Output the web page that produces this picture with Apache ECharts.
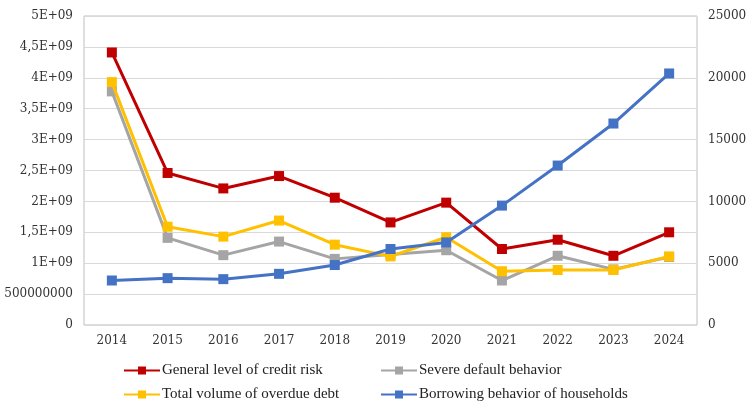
<!DOCTYPE html>
<html><head><meta charset="utf-8">
<script src="https://cdn.jsdelivr.net/npm/echarts@6/dist/echarts.min.js"></script>
<style>html,body{margin:0;padding:0;background:#fff}#c{width:747px;height:401px}</style>
</head><body><div id="c"></div>
<script>
const years = ['2014','2015','2016','2017','2018','2019','2020','2021','2022','2023','2024'];
const creditRisk = [4.41e9,2.46e9,2.21e9,2.41e9,2.06e9,1.66e9,1.98e9,1.23e9,1.38e9,1.12e9,1.50e9];
const severeDefault = [3.78e9,1.41e9,1.13e9,1.35e9,1.07e9,1.14e9,1.21e9,0.72e9,1.12e9,0.90e9,1.10e9];
const overdueDebt = [3.93e9,1.59e9,1.43e9,1.69e9,1.30e9,1.11e9,1.42e9,0.87e9,0.89e9,0.89e9,1.11e9];
const borrowing = [3600,3790,3710,4140,4850,6150,6680,9660,12900,16300,20350];
const leftTicks = ['0','500000000','1E+09','1,5E+09','2E+09','2,5E+09','3E+09','3,5E+09','4E+09','4,5E+09','5E+09'];
const names = ['General level of credit risk','Severe default behavior','Total volume of overdue debt','Borrowing behavior of households'];
const colors = ['#C00000','#A5A5A5','#FFC000','#4472C4'];

const chart = echarts.init(document.getElementById('c'));
const axisFont = {fontFamily:'DejaVu Serif', fontSize:12, color:'#333'};
function mk(i, data, yIdx){
  return {name:names[i], type:'line', data:data, yAxisIndex:yIdx, symbol:'rect', symbolSize:10,
    lineStyle:{width:3,color:colors[i]}, itemStyle:{color:colors[i]}, z: 2 + i};
}
const legPos = [[123,363],[380,363],[123,387],[380,387]];
const legends = names.map((n,i)=>({
  data:[n], left:legPos[i][0], top:legPos[i][1], padding:0, itemWidth:36, itemHeight:10, itemGap:2,
  textStyle:{fontFamily:'Liberation Serif', fontSize:15, color:'#222', padding:[0,0,0,-3]}
}));
chart.setOption({
  animation:false,
  backgroundColor:'#fff',
  grid:{left:84,right:50,top:16,bottom:76,show:true,borderColor:'#bfbfbf',borderWidth:1,
    containLabel:false, outerBoundsMode:'none'},
  legend:legends,
  xAxis:{type:'category', data:years, boundaryGap:true,
    axisLine:{show:false}, axisTick:{show:false},
    axisLabel:Object.assign({margin:10}, axisFont)},
  yAxis:[
    {type:'value', min:0, max:5e9, interval:5e8,
      axisLine:{show:false}, axisTick:{show:false},
      splitLine:{lineStyle:{color:'#d9d9d9'}},
      axisLabel:Object.assign({margin:11, formatter:(v)=>leftTicks[Math.round(v/5e8)]}, axisFont)},
    {type:'value', min:0, max:25000, interval:5000,
      axisLine:{show:false}, axisTick:{show:false}, splitLine:{show:false},
      axisLabel:Object.assign({margin:11, formatter:(v)=>String(v)}, axisFont)}
  ],
  series:[mk(0,creditRisk,0), mk(1,severeDefault,0), mk(2,overdueDebt,0), mk(3,borrowing,1)]
});
</script></body></html>
